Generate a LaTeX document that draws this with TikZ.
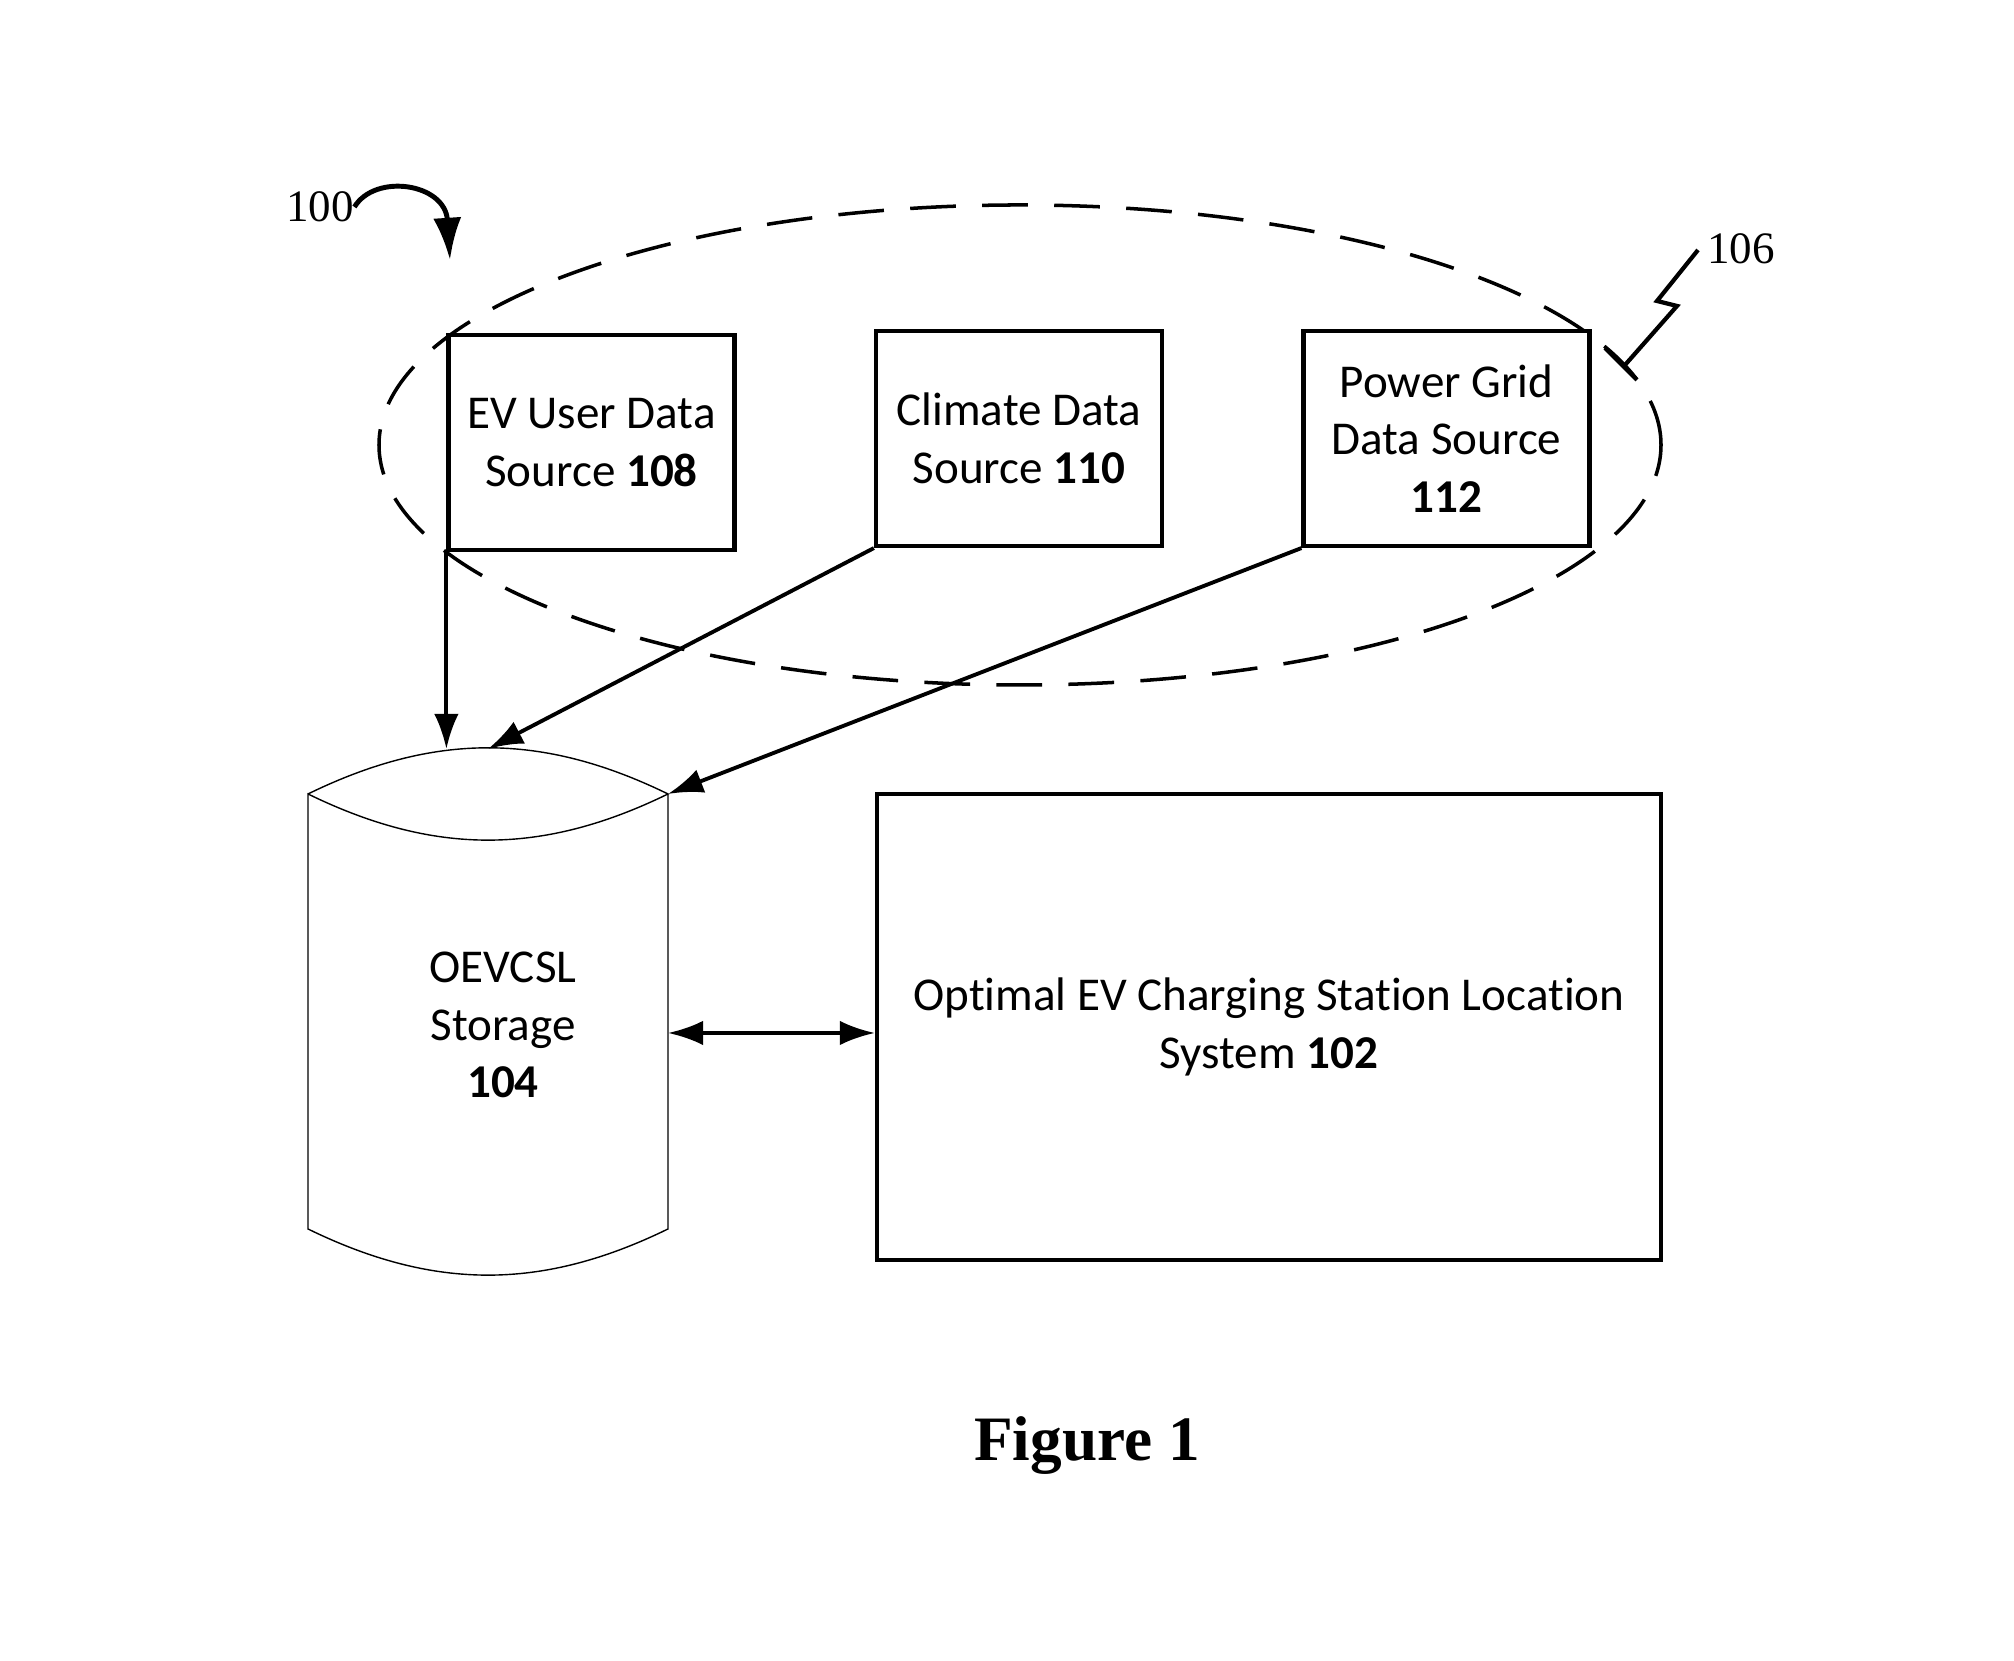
\documentclass[tikz,border=0pt]{standalone}
\usepackage{fontspec}
\setmainfont{Liberation Serif}
\newfontfamily\calibri[Ligatures=NoCommon]{Carlito}
\usetikzlibrary{arrows.meta}

\tikzset{
  srcbox/.style={draw, line width=1.2pt, fill=white, align=center, inner sep=0pt,
    minimum width=2.86cm, minimum height=2.15cm,
    font=\calibri\fontsize{13.4}{16.4}\selectfont},
  boxtext/.style={align=center, inner sep=0pt, font=\calibri\fontsize{13.4}{16.4}\selectfont},
  flow/.style={line width=1.1pt, -{Latex[length=10pt,width=7pt]}},
  cylline/.style={line width=0.4pt},
  reflabel/.style={inner sep=0pt, font=\fontsize{12.8}{15}\selectfont}
}

\begin{document}
\begin{tikzpicture}

\useasboundingbox (0,0) rectangle (20.14,16.61);

% group 106
\draw[line width=1pt, dash pattern=on 13pt off 7.5pt] (10.20,12.16) ellipse [x radius=6.41, y radius=2.40];

\node[srcbox] (ev) at (5.915,12.185) {EV User Data\\Source \textbf{108}};
\node[srcbox] (clim) at (10.19,12.225) {Climate Data\\Source \textbf{110}};
\node[srcbox] (grid) at (14.465,12.225) {Power Grid\\Data Source\\\textbf{112}};

% storage 104
\coordinate (cyltop) at (4.88,9.12);
\coordinate (cylNW) at (3.08,8.67);
\coordinate (cylNE) at (6.68,8.67);
\coordinate (cylE) at (6.68,6.28);
\draw[cylline] (cylNW) to[bend left=26] (cylNE) to[bend left=26] (cylNW) -- (3.08,4.32)
  to[bend right=26] (6.68,4.32) -- (cylNE);
\node[boxtext] (store) at (5.03,6.36) {OEVCSL\\Storage\\\textbf{104}};

\node[draw, line width=1.2pt, minimum width=7.84cm, minimum height=4.66cm, inner sep=0pt] (sys) at (12.69,6.34) {};
\node[boxtext] (systext) at (sys.center) {Optimal EV Charging Station Location\\System \textbf{102}};

\draw[flow] (ev.south west) -- (ev.south west |- cyltop);
\draw[flow] (clim.south west) -- (cyltop);
\draw[flow] (grid.south west) -- (cylNE);
\draw[line width=1.1pt, {Latex[length=10pt,width=7pt]}-{Latex[length=10pt,width=7pt]}] (cylE) -- (cylE -| sys.west);

% reference numerals
\node[reflabel] (l100) at (3.20,14.54) {100};
\coordinate (p100) at (4.50,14.01);
\draw[line width=1.4pt, -{Latex[length=12pt,width=8pt]}] (l100.east) .. controls (3.75,14.88) and (4.45,14.78) .. (p100);

\node[reflabel] (l106) at (17.41,14.12) {106};
\coordinate (p106) at (16.25,12.96);
\draw[line width=1.2pt] (16.98,14.11) -- (16.57,13.60) -- (16.77,13.55) -- (p106);
\draw[line width=1.2pt] (16.05,13.13) -- (16.37,12.81);

\node[inner sep=0pt, font=\bfseries\fontsize{18}{20}\selectfont] (fig) at (10.87,2.15) {Figure 1};

\end{tikzpicture}
\end{document}
